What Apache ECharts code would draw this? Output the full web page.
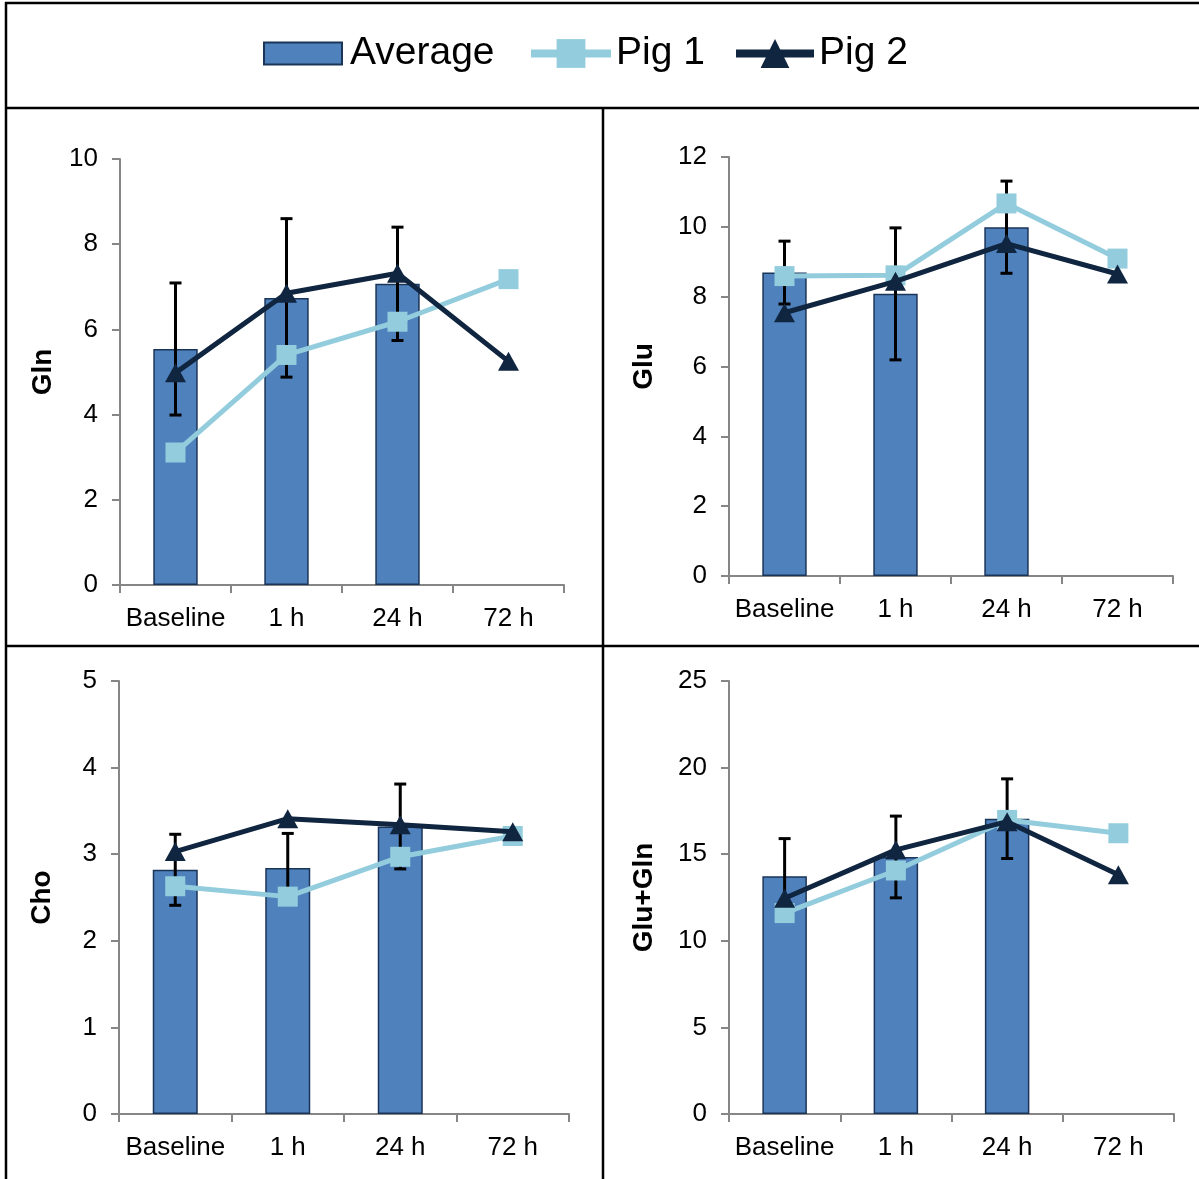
<!DOCTYPE html>
<html>
<head>
<meta charset="utf-8">
<title>Gln, Glu, Cho and Glu+Gln over time</title>
<script src="https://cdn.jsdelivr.net/npm/echarts@6/dist/echarts.min.js"></script>
<style>
  html, body { margin: 0; padding: 0; background: #fff; }
  #chart { width: 1199px; height: 1179px; }
</style>
</head>
<body>
<div id="chart"></div>
<script>
// Time points shared by all four panels
const timePoints = ['Baseline', '1 h', '24 h', '72 h'];

// Gln
const glnAverage = [5.54, 6.74, 7.07, null];
const glnError   = [1.55, 1.86, 1.33, null];
const glnPig1    = [3.11, 5.40, 6.18, 7.18];
const glnPig2    = [4.98, 6.85, 7.32, 5.25];

// Glu
const gluAverage = [8.69, 8.08, 9.99, null];
const gluError   = [0.90, 1.89, 1.32, null];
const gluPig1    = [8.59, 8.61, 10.67, 9.09];
const gluPig2    = [7.54, 8.44, 9.52, 8.65];

// Cho
const choAverage = [2.82, 2.84, 3.32, null];
const choError   = [0.41, 0.40, 0.49, null];
const choPig1    = [2.63, 2.51, 2.97, 3.21];
const choPig2    = [3.03, 3.41, 3.34, 3.26];

// Glu+Gln
const glxAverage = [13.73, 14.84, 17.05, null];
const glxError   = [2.17, 2.36, 2.30, null];
const glxPig1    = [11.60, 14.06, 16.98, 16.21];
const glxPig2    = [12.46, 15.25, 16.88, 13.81];

// Y axis ranges per panel
const yMax      = [10, 12, 5, 25];
const yInterval = [2, 2, 1, 5];
const yTitles   = ['Gln', 'Glu', 'Cho', 'Glu+Gln'];

const panels = [
  { avg: glnAverage, err: glnError, pig1: glnPig1, pig2: glnPig2 },
  { avg: gluAverage, err: gluError, pig1: gluPig1, pig2: gluPig2 },
  { avg: choAverage, err: choError, pig1: choPig1, pig2: choPig2 },
  { avg: glxAverage, err: glxError, pig1: glxPig1, pig2: glxPig2 }
];

const FONT = '"Liberation Sans", Arial, Helvetica, sans-serif';
const BAR_FILL = '#4F81BD';
const BAR_EDGE = '#1B3558';
const PIG1 = '#93CDDD';
const PIG2 = '#10253F';
const AXIS_GREY = '#868686';

// Plot areas (pixels)
const grids = [
  { left: 120, top: 159, width: 444, height: 426 },
  { left: 729, top: 157, width: 444, height: 419 },
  { left: 119, top: 681, width: 450, height: 433 },
  { left: 729, top: 681, width: 445, height: 433 }
];
const nameGaps = [63, 71, 63, 71];

const xAxes = grids.map((g, i) => ({
  type: 'category',
  gridIndex: i,
  data: timePoints,
  boundaryGap: true,
  axisLine: { lineStyle: { color: AXIS_GREY, width: 2 } },
  axisTick: { show: true, inside: false, length: 8, lineStyle: { color: AXIS_GREY, width: 2 } },
  axisLabel: { color: '#000', fontSize: 26, fontFamily: FONT, margin: 21, interval: 0 },
  splitLine: { show: false }
}));

const yAxes = grids.map((g, i) => ({
  type: 'value',
  gridIndex: i,
  min: 0,
  max: yMax[i],
  interval: yInterval[i],
  name: yTitles[i],
  nameLocation: 'middle',
  nameGap: nameGaps[i],
  nameTextStyle: { color: '#000', fontSize: 28, fontWeight: 'bold', fontFamily: FONT },
  axisLine: { show: true, lineStyle: { color: AXIS_GREY, width: 2 } },
  axisTick: { show: true, inside: false, length: 8, lineStyle: { color: AXIS_GREY, width: 2 } },
  axisLabel: { color: '#000', fontSize: 26, fontFamily: FONT, margin: 22 },
  splitLine: { show: false }
}));

// Vertical error bars with caps, centred on each category
function errorBarRenderer(params, api) {
  const idx = api.value(0);
  const mean = api.value(1);
  const err = api.value(2);
  const hi = api.coord([idx, mean + err]);
  const lo = api.coord([idx, mean - err]);
  const cap = 6;
  const style = { stroke: '#000', lineWidth: 3 };
  return {
    type: 'group',
    children: [
      { type: 'line', shape: { x1: hi[0], y1: hi[1], x2: lo[0], y2: lo[1] }, style: style },
      { type: 'line', shape: { x1: hi[0] - cap, y1: hi[1], x2: hi[0] + cap, y2: hi[1] }, style: style },
      { type: 'line', shape: { x1: lo[0] - cap, y1: lo[1], x2: lo[0] + cap, y2: lo[1] }, style: style }
    ]
  };
}

const series = [];
panels.forEach((p, i) => {
  series.push({
    name: 'Average',
    type: 'bar',
    xAxisIndex: i, yAxisIndex: i,
    data: p.avg,
    barWidth: '40%',
    itemStyle: { color: BAR_FILL, borderColor: BAR_EDGE, borderWidth: 1.5 },
    z: 2
  });
  const errData = [];
  p.avg.forEach((v, k) => { if (v != null) errData.push([k, v, p.err[k]]); });
  series.push({
    name: 'Average',
    type: 'custom',
    xAxisIndex: i, yAxisIndex: i,
    renderItem: errorBarRenderer,
    encode: { x: 0, y: 1 },
    data: errData,
    z: 3
  });
  series.push({
    name: 'Pig 1',
    type: 'line',
    xAxisIndex: i, yAxisIndex: i,
    data: p.pig1,
    symbol: 'rect',
    symbolSize: 20,
    lineStyle: { color: PIG1, width: 5 },
    itemStyle: { color: PIG1 },
    z: 4
  });
  series.push({
    name: 'Pig 2',
    type: 'line',
    xAxisIndex: i, yAxisIndex: i,
    data: p.pig2,
    symbol: 'triangle',
    symbolSize: [21, 19],
    lineStyle: { color: PIG2, width: 5 },
    itemStyle: { color: PIG2 },
    z: 5
  });
});

const legendText = { color: '#000', fontSize: 39, fontFamily: FONT };

const option = {
  animation: false,
  backgroundColor: '#fff',
  legend: [
    { data: [{ name: 'Average', icon: 'rect' }], left: 263, top: 34, padding: 0,
      itemWidth: 78, itemHeight: 22, textStyle: Object.assign({ padding: [0, 0, 0, 3] }, legendText),
      selectedMode: false },
    { data: ['Pig 1'], left: 527, top: 34, padding: 0, itemWidth: 80, itemHeight: 36,
      lineStyle: { width: 8 }, textStyle: legendText, selectedMode: false },
    { data: ['Pig 2'], left: 732, top: 34, padding: 0, itemWidth: 78, itemHeight: 36,
      lineStyle: { width: 8 }, textStyle: legendText, selectedMode: false }
  ],
  grid: grids,
  xAxis: xAxes,
  yAxis: yAxes,
  series: series,
  // Frame around the legend strip and the four panels
  graphic: [
    { type: 'line', shape: { x1: 5, y1: 3, x2: 1199, y2: 3 }, style: { stroke: '#000', lineWidth: 2.5 } },
    { type: 'line', shape: { x1: 6, y1: 2, x2: 6, y2: 1179 }, style: { stroke: '#000', lineWidth: 2.5 } },
    { type: 'line', shape: { x1: 5, y1: 108, x2: 1199, y2: 108 }, style: { stroke: '#000', lineWidth: 2.5 } },
    { type: 'line', shape: { x1: 5, y1: 646, x2: 1199, y2: 646 }, style: { stroke: '#000', lineWidth: 2.5 } },
    { type: 'line', shape: { x1: 603, y1: 108, x2: 603, y2: 1179 }, style: { stroke: '#000', lineWidth: 2.5 } }
  ]
};

const chart = echarts.init(document.getElementById('chart'), null, { renderer: 'canvas' });
chart.setOption(option);
</script>
</body>
</html>
